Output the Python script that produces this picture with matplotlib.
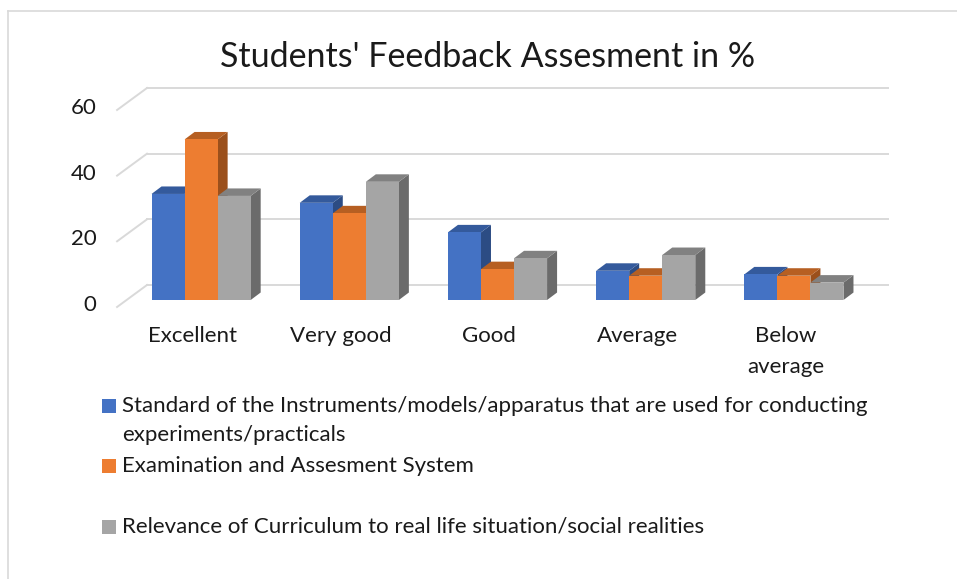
import matplotlib
matplotlib.use("Agg")
import matplotlib.pyplot as plt
from matplotlib.patches import Polygon, Rectangle
from matplotlib.lines import Line2D

# data
categories = ["Excellent", "Very good", "Good", "Average", "Below\naverage"]
series_names = [
    "Standard of the Instruments/models/apparatus that are used for conducting\nexperiments/practicals",
    "Examination and Assesment System",
    "Relevance of Curriculum to real life situation/social realities",
]
instruments = [32.3, 29.6, 20.6, 8.9, 7.8]
examination = [48.9, 26.4, 9.4, 7.4, 7.4]
curriculum = [31.7, 36.0, 12.7, 13.7, 5.3]
yticks = [0, 20, 40, 60]
title = "Students' Feedback Assesment in %"

front_colors = ["#4472C4", "#ED7D31", "#A5A5A5"]
top_colors = ["#345A9C", "#B65F22", "#818181"]
side_colors = ["#2C4C84", "#9B501C", "#6B6B6B"]
grid_color = "#D9D9D9"

plt.rcParams['font.family'] = ['Lato', 'DejaVu Sans']

W, H = 957, 579
fig = plt.figure(figsize=(W / 100, H / 100), dpi=100)
ax = fig.add_axes([127 / W, 1 - 300 / H, 741 / W, 197 / H])
ax.set_xlim(-0.5, 4.5)
ax.set_ylim(0, 60)
ax.axis('off')

# 3d offsets in data units
back_dx, back_dy = 0.135, 4.57
front_dx, front_dy = -0.067, -2.13
depth_dx, depth_dy = 0.0675, 2.28
bw = 0.223

# back wall gridlines and floor/wall diagonals
for v in yticks:
    ax.add_line(Line2D([-0.5 + back_dx, 4.5 + back_dx], [v + back_dy, v + back_dy],
                       color=grid_color, lw=1.4, zorder=1, clip_on=False))
    ax.add_line(Line2D([-0.5 + front_dx, -0.5 + back_dx], [v + front_dy, v + back_dy],
                       color=grid_color, lw=1.4, zorder=1, clip_on=False))
    ax.text(-0.705, v - 1.5, str(v), ha='right', va='center', fontsize=16,
            color='#1a1a1a', clip_on=False)

series = [instruments, examination, curriculum]
for j, vals in enumerate(series):
    xs = [i + (j - 1) * bw for i in range(len(categories))]
    bars = ax.bar(xs, vals, width=bw, color=front_colors[j], edgecolor='none', clip_on=False)
    for i, b in enumerate(bars):
        k = (i * 3 + j) * 3 + 10
        x0 = b.get_x()
        x1 = x0 + b.get_width()
        h = b.get_height()
        side = Polygon([(x1, 0), (x1 + depth_dx, depth_dy), (x1 + depth_dx, h + depth_dy), (x1, h)],
                       closed=True, facecolor=side_colors[j], edgecolor='none', zorder=k, clip_on=False)
        top = Polygon([(x0, h), (x1, h), (x1 + depth_dx, h + depth_dy), (x0 + depth_dx, h + depth_dy)],
                      closed=True, facecolor=top_colors[j], edgecolor='none', zorder=k + 1, clip_on=False)
        ax.add_patch(side)
        ax.add_patch(top)
        b.set_zorder(k + 2)

# category labels
for i, lab in enumerate(categories):
    for n, line in enumerate(lab.split("\n")):
        ax.text(i - 0.057, -10.97 - n * 9.45, line, ha='center', va='center',
                fontsize=16, color='#1a1a1a', clip_on=False)

fig.suptitle(title, x=488 / W, y=1 - 57 / H, va='center', fontsize=24.5, color='#1a1a1a')

# legend
legend_y = [406, 466, 526.7]
for j, name in enumerate(series_names):
    yc = legend_y[j]
    fig.add_artist(Rectangle((102 / W, 1 - (yc + 7) / H), 14 / W, 14 / H,
                             facecolor=front_colors[j], edgecolor='none', transform=fig.transFigure))
    for n, line in enumerate(name.split("\n")):
        fig.text(122 / W, 1 - (yc + n * 29) / H, line, ha='left', va='center',
                 fontsize=16, color='#1a1a1a')

# chart border (left and top edges visible)
fig.add_artist(Line2D([8 / W, 8 / W], [0, 1 - 11 / H], color=grid_color, lw=1.2,
                      transform=fig.transFigure))
fig.add_artist(Line2D([8 / W, 1], [1 - 11 / H, 1 - 11 / H], color=grid_color, lw=1.2,
                      transform=fig.transFigure))

fig.savefig("out.png", dpi=100)
